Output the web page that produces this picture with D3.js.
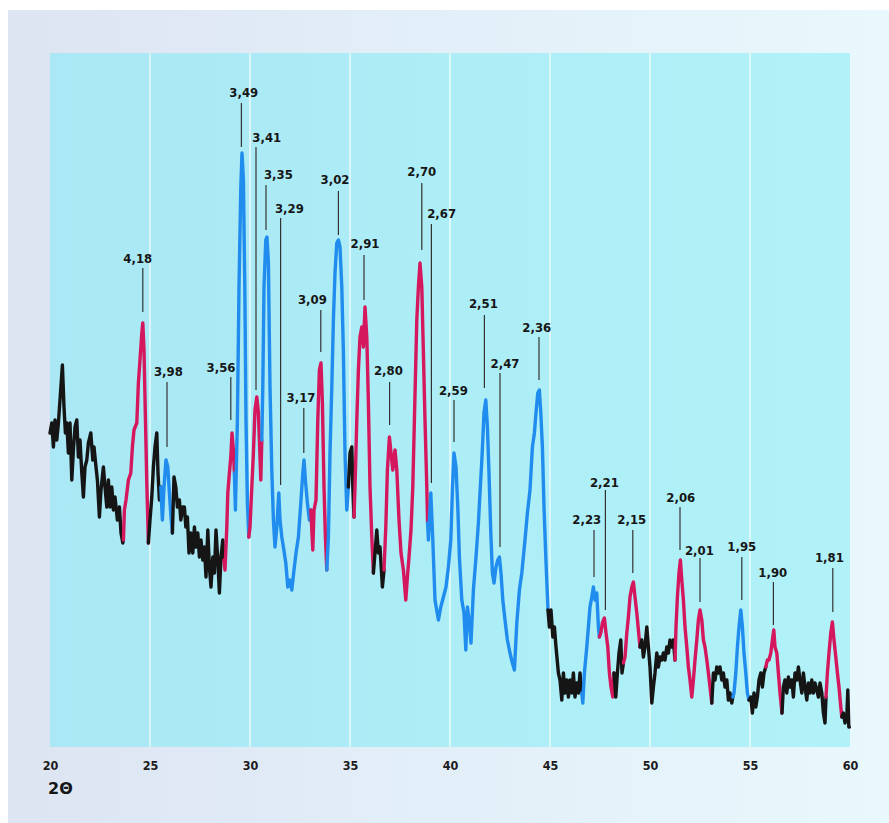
<!DOCTYPE html>
<html><head><meta charset="utf-8">
<script src="https://cdn.jsdelivr.net/npm/d3@7"></script>
<style>html,body{margin:0;padding:0;background:#fff;}svg{display:block;}</style>
</head><body>
<script>
// ---- data ----
const twoTheta = [
20.00,20.09,20.17,20.25,20.34,20.42,20.50,20.62,20.70,20.77,20.84,20.92,21.00,21.09,21.17,21.25,21.34,21.42,21.50,21.59,21.67,21.75,21.84,21.92,22.04,22.14,22.20,22.30,22.37,22.47,22.55,22.67,22.75,22.84,22.92,23.00,23.09,23.17,23.25,23.37,23.47,23.55,23.64,
23.67,23.72,23.80,23.92,24.04,24.12,24.20,24.34,24.42,24.50,24.59,24.64,24.70,24.77,24.84,24.92,
25.00,25.09,25.17,25.25,25.34,25.40,25.47,25.54,
25.62,25.70,25.80,25.89,25.97,26.05,26.12,
26.20,26.29,26.37,26.47,26.54,26.64,26.72,26.79,26.87,26.95,27.04,27.14,27.22,27.30,27.39,27.47,27.55,27.64,27.72,27.80,27.89,27.97,28.05,28.14,28.22,28.30,28.39,28.47,28.55,28.64,28.70,
28.75,28.84,28.89,28.97,29.04,29.10,29.17,29.22,
29.27,29.37,29.45,29.54,29.60,29.67,29.74,29.80,29.87,29.94,
30.00,30.09,30.17,30.25,30.34,30.42,30.47,30.54,30.59,
30.64,30.70,30.79,30.85,30.92,31.00,31.09,31.17,31.25,31.34,31.44,31.50,31.59,31.67,31.79,31.89,32.00,32.09,32.20,32.30,32.42,32.54,32.64,32.70,32.77,32.87,32.97,33.04,
33.14,33.20,33.30,33.39,33.47,33.55,33.62,33.70,33.77,33.84,
33.92,34.00,34.09,34.17,34.25,34.34,34.42,34.50,34.59,34.67,34.75,34.84,34.92,
35.00,35.09,35.14,35.20,
35.25,35.34,35.42,35.50,35.59,35.67,35.75,35.84,35.92,36.00,36.09,36.17,
36.25,36.34,36.42,36.50,36.62,36.70,
36.79,36.87,36.97,37.05,37.14,37.25,37.34,37.45,37.55,37.67,37.79,37.87,37.95,38.05,38.14,38.22,38.34,38.42,38.50,38.59,38.67,38.75,38.84,38.88,
38.92,39.04,39.14,39.25,39.42,39.54,39.67,39.80,39.92,40.04,40.12,40.20,40.30,40.39,40.47,40.59,40.70,40.79,40.87,40.97,41.05,41.17,41.30,41.42,41.50,41.60,41.70,41.79,41.87,41.95,42.04,42.12,42.20,42.30,42.39,42.47,42.55,42.64,42.75,42.87,43.00,43.12,43.22,43.34,43.47,43.59,43.75,43.87,44.00,44.12,44.22,44.30,44.39,44.47,44.54,44.62,44.70,44.79,44.90,
44.97,45.05,45.14,45.22,45.30,45.42,45.50,45.59,45.67,45.75,45.84,45.92,46.00,46.09,46.17,46.25,46.34,46.42,46.50,46.59,
46.64,46.72,46.84,46.92,47.00,47.09,47.17,47.25,47.34,47.42,47.47,
47.54,47.62,47.72,47.80,47.89,47.97,48.05,48.14,48.20,
48.29,48.37,48.45,48.54,48.60,48.67,
48.75,48.84,48.92,49.00,49.09,49.17,49.25,49.34,49.42,49.50,
49.59,49.67,49.75,49.84,49.92,50.00,50.09,50.17,50.25,50.34,50.42,50.50,50.59,50.67,50.75,50.84,50.92,51.00,51.09,51.17,51.25,
51.30,51.37,51.45,51.52,51.59,51.67,51.75,51.84,51.92,52.00,52.09,52.17,52.25,52.34,52.42,52.50,52.59,52.67,52.75,52.84,52.92,53.00,53.09,
53.17,53.25,53.34,53.42,53.50,53.59,53.67,53.75,53.84,53.92,54.00,54.09,54.14,
54.20,54.29,54.37,54.45,54.54,54.62,54.70,54.79,54.87,54.95,
55.04,55.12,55.20,55.29,55.37,55.45,55.54,55.62,55.70,55.79,
55.87,55.95,56.04,56.12,56.19,56.25,56.34,56.42,56.50,56.60,
56.67,56.75,56.84,56.92,57.00,57.09,57.17,57.25,57.34,57.42,57.50,57.59,57.67,57.75,57.84,57.92,58.00,58.09,58.17,58.25,58.34,58.42,58.50,58.59,58.67,58.75,58.80,
58.87,58.95,59.04,59.12,59.20,59.29,59.37,59.45,59.54,59.59,
59.67,59.75,59.84,59.89,59.94,59.97
];
const intensity = [
314,324,300,327,307,324,347,382,340,314,324,294,324,267,297,320,327,290,307,274,250,280,287,304,314,287,300,280,267,230,257,280,260,240,267,240,260,237,250,227,240,214,204,
207,237,247,267,274,300,317,324,364,387,414,424,397,330,264,204,
227,250,280,300,314,274,247,260,
227,260,287,280,254,230,214,
270,260,240,247,227,240,240,220,230,194,214,194,220,200,214,190,207,187,200,170,217,180,160,190,174,217,187,154,190,207,187,
177,220,254,274,290,314,297,274,
237,327,460,560,594,567,460,327,244,210,
220,260,294,337,350,334,307,267,307,
360,460,507,510,484,360,277,227,200,220,254,227,210,200,184,160,167,157,177,194,210,244,274,287,267,244,227,237,
197,237,247,327,377,384,344,260,210,177,
210,294,360,427,474,504,507,500,460,394,294,237,260,
294,300,260,230,
260,327,377,410,420,400,440,410,344,260,210,174,
194,217,194,200,160,177,
220,277,310,294,277,297,277,227,194,177,147,170,190,217,260,327,427,460,484,460,394,327,260,224,
207,254,207,147,127,140,150,160,180,207,257,294,280,240,190,147,134,97,140,124,104,157,190,224,254,290,334,347,320,274,214,174,164,180,187,190,174,147,127,107,94,84,77,124,157,174,207,234,257,300,314,334,354,357,334,300,240,190,137,
120,137,110,120,100,74,67,47,74,54,67,50,67,54,74,50,64,54,74,54,
44,74,100,120,140,150,160,147,154,120,110,
114,124,129,114,100,74,60,50,74,
50,74,94,107,74,84,
90,114,130,150,160,165,150,134,117,100,
107,90,100,120,100,80,44,60,74,94,80,90,87,94,87,100,94,107,100,107,87,
120,150,174,187,167,147,120,100,80,67,50,67,87,107,127,137,127,107,100,87,74,60,44,
74,67,80,74,80,67,74,60,67,47,54,44,50,
54,74,100,120,137,120,94,74,54,47,
50,34,54,40,50,67,74,60,74,80,
87,87,94,107,117,100,94,74,54,34,
60,67,54,70,60,67,50,74,67,80,67,54,74,60,47,64,54,67,54,64,57,50,64,54,34,24,50,
74,94,114,125,107,90,74,60,40,30,
34,24,30,57,20,20
];
// colour runs of the trace (2θ boundaries and phase of each run)
const segBounds = [20,23.67,24.92,25.54,26.12,28.70,29.22,29.94,30.59,33.04,33.84,34.92,35.20,36.17,36.70,38.88,44.90,46.59,47.47,48.20,48.67,49.50,51.25,53.09,54.14,54.95,55.79,56.60,58.80,59.59,59.97];
const segPhase = ['other','phaseA','other','phaseB','other','phaseA','phaseB','phaseA','phaseB','phaseA','phaseB','other','phaseA','other','phaseA','phaseB','other','phaseB','phaseA','other','phaseA','other','phaseA','other','phaseB','other','phaseA','other','phaseA','other'];
const xTicks = [20,25,30,35,40,45,50,55,60];
const axisTitle = '2Θ';
// peak labels (d-spacings) with leader lines
const dLabels = ['4,18','3,98','3,56','3,49','3,41','3,35','3,29','3,17','3,09','3,02','2,91','2,80','2,70','2,67','2,59','2,51','2,47','2,36','2,23','2,21','2,15','2,06','2,01','1,95','1,90','1,81'];
const leaderTheta = [24.64,25.85,29.04,29.57,30.30,30.80,31.53,32.69,33.54,34.42,35.70,36.98,38.59,39.07,40.20,41.72,42.50,44.45,47.20,47.77,49.14,51.50,52.50,54.59,56.17,59.14];
const leaderTop = [479,365,370,644,600,562,529,339,437,556,492,365,564,523,347,432,374,410,217,257,217,240,189,190,165,179];
const leaderBottom = [435,300,327,600,357,517,262,294,395,512,447,322,497,264,305,359,200,367,170,137,174,197,145,147,122,135];
const textTheta = [24.39,25.92,28.55,29.69,30.84,31.42,31.97,32.55,33.12,34.25,35.75,36.92,38.59,39.58,40.17,41.67,42.75,44.34,46.84,47.72,49.09,51.54,52.47,54.59,56.14,58.97];
const textLevel = [489,376,380,655,610,573,539,350,448,568,504,377,576,534,357,444,384,420,228,265,228,250,197,201,175,190];

// ---- drawing ----
const W = 889, H = 823;
const phaseColor = {other:'#151515', phaseA:'#d5175d', phaseB:'#1f8cee'};
const svg = d3.select('body').append('svg').attr('width', W).attr('height', H);
const defs = svg.append('defs');
const g1 = defs.append('linearGradient').attr('id','outer').attr('x1','0').attr('x2','1').attr('y1','0').attr('y2','0');
g1.append('stop').attr('offset','0').attr('stop-color','#dde4f2');
g1.append('stop').attr('offset','0.45').attr('stop-color','#e2eef8');
g1.append('stop').attr('offset','1').attr('stop-color','#e8f8fc');
const g2 = defs.append('linearGradient').attr('id','plotbg').attr('x1','0').attr('x2','1').attr('y1','0').attr('y2','0');
g2.append('stop').attr('offset','0').attr('stop-color','#a9e8f4');
g2.append('stop').attr('offset','1').attr('stop-color','#b1f2f8');

svg.append('rect').attr('width',W).attr('height',H).attr('fill','#ffffff');
svg.append('rect').attr('x',8).attr('y',10).attr('width',W-8).attr('height',H-10).attr('fill','url(#outer)');

const x = d3.scaleLinear().domain([20,60]).range([50,850]);
const y = d3.scaleLinear().domain([0,694]).range([747,53]);

svg.append('rect').attr('x',x(20)).attr('y',y(694)).attr('width',x(60)-x(20)).attr('height',y(0)-y(694)).attr('fill','url(#plotbg)');

// white grid lines
svg.append('g').selectAll('line').data(xTicks.filter(t=>t>20 && t<60)).join('line')
  .attr('x1',d=>x(d)).attr('x2',d=>x(d)).attr('y1',y(694)).attr('y2',y(0))
  .attr('stroke','#ffffff').attr('stroke-width',1.2).attr('opacity',0.95);

// x axis labels
const ax = svg.append('g').attr('transform',`translate(0,${y(0)})`)
  .call(d3.axisBottom(x).tickValues(xTicks).tickSize(0).tickPadding(14).tickFormat(d3.format('d')));
ax.select('.domain').remove();
ax.selectAll('text').attr('font-family','"Liberation Sans Narrow", "DejaVu Sans Condensed", sans-serif')
  .attr('font-weight','bold').attr('font-size','12.5px').attr('fill','#1c1c1c');

svg.append('text').attr('x',x(20)-2).attr('y',794).text(axisTitle)
  .attr('font-family','"DejaVu Sans", sans-serif').attr('font-weight','bold').attr('font-size','16px').attr('fill','#151515');

// trace
const pts = twoTheta.map((t,i)=>({t, v:intensity[i]}));
const line = d3.line().x(d=>x(d.t)).y(d=>y(d.v));
const segs = segPhase.map((p,i)=>({phase:p, pts: pts.filter(d=>d.t>=segBounds[i]-1e-6 && d.t<=segBounds[i+1]+1e-6)}));
svg.append('g').selectAll('path').data(segs).join('path')
  .attr('d',d=>line(d.pts)).attr('fill','none')
  .attr('stroke',d=>phaseColor[d.phase]).attr('stroke-width',3.4)
  .attr('stroke-linejoin','round').attr('stroke-linecap','round');

// leader lines and labels
const lab = svg.append('g');
lab.selectAll('line').data(dLabels).join('line')
  .attr('x1',(d,i)=>x(leaderTheta[i])).attr('x2',(d,i)=>x(leaderTheta[i]))
  .attr('y1',(d,i)=>y(leaderTop[i])).attr('y2',(d,i)=>y(leaderBottom[i]))
  .attr('stroke','#333333').attr('stroke-width',1.2);
lab.selectAll('text').data(dLabels).join('text')
  .attr('x',(d,i)=>x(textTheta[i])).attr('y',(d,i)=>y(textLevel[i])+4.8)
  .attr('text-anchor','middle').text(d=>d)
  .attr('font-family','"DejaVu Sans Condensed", "DejaVu Sans", sans-serif')
  .attr('font-stretch','condensed').attr('font-weight','bold').attr('font-size','13px').attr('fill','#161616');
</script>
</body></html>
